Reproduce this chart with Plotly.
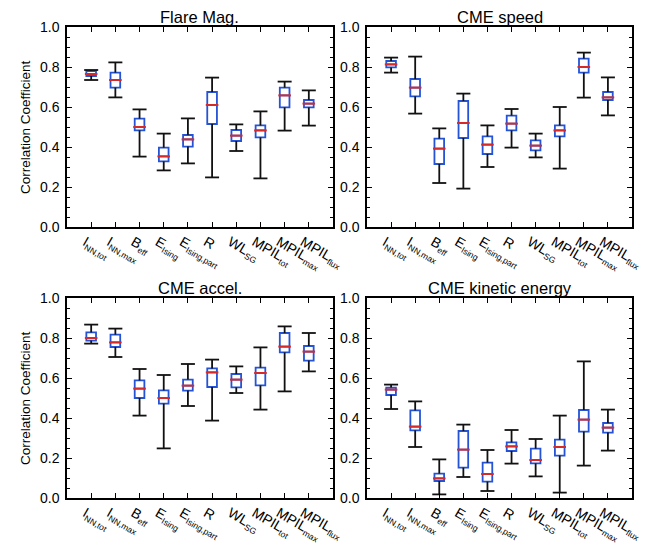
import plotly.graph_objects as go
from plotly.subplots import make_subplots

# x categories (tick labels)
cats = [("I", "NN,tot"), ("I", "NN,max"), ("B", "eff"), ("E", "Ising"), ("E", "Ising,part"),
        ("R", ""), ("WL", "SG"), ("MPIL", "tot"), ("MPIL", "max"), ("MPIL", "flux")]
labels = [m + ("<sub><span style='font-size:8.5px'>%s</span></sub>" % s if s else "")
          for m, s in cats]
xs = list(range(len(labels)))

# Flare Mag.
flare_lo = [0.735, 0.648, 0.352, 0.283, 0.318, 0.248, 0.380, 0.243, 0.482, 0.507]
flare_q1 = [0.755, 0.697, 0.483, 0.328, 0.402, 0.515, 0.430, 0.448, 0.598, 0.598]
flare_med = [0.765, 0.735, 0.500, 0.353, 0.438, 0.610, 0.457, 0.483, 0.658, 0.617]
flare_q3 = [0.780, 0.772, 0.542, 0.397, 0.460, 0.675, 0.485, 0.508, 0.697, 0.635]
flare_hi = [0.785, 0.823, 0.588, 0.467, 0.543, 0.747, 0.513, 0.578, 0.727, 0.683]

# CME speed
speed_lo = [0.772, 0.567, 0.220, 0.192, 0.300, 0.397, 0.348, 0.292, 0.647, 0.558]
speed_q1 = [0.798, 0.653, 0.315, 0.445, 0.365, 0.483, 0.383, 0.453, 0.772, 0.635]
speed_med = [0.813, 0.697, 0.392, 0.520, 0.412, 0.517, 0.407, 0.483, 0.800, 0.648]
speed_q3 = [0.830, 0.740, 0.442, 0.630, 0.453, 0.557, 0.433, 0.508, 0.842, 0.675]
speed_hi = [0.847, 0.852, 0.493, 0.667, 0.508, 0.590, 0.467, 0.600, 0.872, 0.748]

# CME accel.
accel_lo = [0.772, 0.705, 0.412, 0.248, 0.460, 0.387, 0.525, 0.442, 0.533, 0.633]
accel_q1 = [0.787, 0.755, 0.500, 0.472, 0.537, 0.555, 0.553, 0.563, 0.728, 0.687]
accel_med = [0.800, 0.778, 0.547, 0.500, 0.562, 0.628, 0.592, 0.625, 0.757, 0.732]
accel_q3 = [0.828, 0.817, 0.588, 0.538, 0.592, 0.648, 0.620, 0.652, 0.825, 0.760]
accel_hi = [0.867, 0.847, 0.645, 0.615, 0.670, 0.692, 0.658, 0.753, 0.858, 0.825]

# CME kinetic energy
ekin_lo = [0.445, 0.255, 0.018, 0.105, 0.035, 0.172, 0.108, 0.027, 0.162, 0.237]
ekin_q1 = [0.515, 0.338, 0.085, 0.152, 0.082, 0.235, 0.173, 0.212, 0.332, 0.327]
ekin_med = [0.542, 0.357, 0.098, 0.242, 0.120, 0.258, 0.190, 0.255, 0.392, 0.352]
ekin_q3 = [0.552, 0.438, 0.122, 0.335, 0.177, 0.278, 0.247, 0.292, 0.440, 0.375]
ekin_hi = [0.567, 0.483, 0.193, 0.367, 0.240, 0.340, 0.295, 0.412, 0.683, 0.442]

titles = ["Flare Mag.", "CME speed", "CME accel.", "CME kinetic energy"]
panels = [
    (flare_lo, flare_q1, flare_med, flare_q3, flare_hi),
    (speed_lo, speed_q1, speed_med, speed_q3, speed_hi),
    (accel_lo, accel_q1, accel_med, accel_q3, accel_hi),
    (ekin_lo, ekin_q1, ekin_med, ekin_q3, ekin_hi),
]

W, H = 665, 554
OFF = 8  # page body margin
xdom = [[(67 - OFF) / W, (333 - OFF) / W], [(367 - OFF) / W, (632 - OFF) / W]]
ydom = [[1 - (227 - OFF) / H, 1 - (27 - OFF) / H], [1 - (498 - OFF) / H, 1 - (298 - OFF) / H]]

BLUE = "#2453d6"
RED = "#d42a2a"
FONT = "Liberation Sans"

fig = make_subplots(rows=2, cols=2)

for k, (lo, q1, med, q3, hi) in enumerate(panels):
    r, c = k // 2 + 1, k % 2 + 1
    fig.add_trace(go.Box(x=xs, q1=q1, median=med, q3=q3, lowerfence=q1, upperfence=q3,
                         width=0.4, whiskerwidth=0, fillcolor="white",
                         line=dict(color=BLUE, width=1.8), hoverinfo="skip"), row=r, col=c)
    wx, wy = [], []
    for i in xs:
        wx += [i, i, None, i, i, None]
        wy += [lo[i], q1[i], None, q3[i], hi[i], None]
    fig.add_trace(go.Scatter(x=wx, y=wy, mode="lines",
                             line=dict(color="#111111", width=1.8)), row=r, col=c)
    fig.add_trace(go.Scatter(x=xs + xs, y=lo + hi, mode="markers",
                             marker=dict(symbol="line-ew", size=10,
                                         line=dict(color="#111111", width=1.8))), row=r, col=c)
    fig.add_trace(go.Scatter(x=xs, y=med, mode="markers",
                             marker=dict(symbol="line-ew", size=9,
                                         line=dict(color=RED, width=2))), row=r, col=c)

    fig.update_xaxes(domain=xdom[c - 1], range=[-1, 10], tickvals=xs, ticktext=labels,
                     tickangle=30, ticks="inside", ticklen=5, tickwidth=1.2, tickcolor="black",
                     showline=True, linecolor="black", linewidth=1.5, mirror="allticks",
                     showgrid=False, zeroline=False, automargin=False, ticklabelshift=-6,
                     tickfont=dict(family=FONT, size=14, color="black"), row=r, col=c)
    fig.update_yaxes(domain=ydom[r - 1], range=[0, 1], dtick=0.2, tickformat=".1f",
                     ticks="inside", ticklen=5, tickwidth=1.2, tickcolor="black",
                     minor=dict(dtick=0.05, ticks="inside", ticklen=3, tickcolor="black"),
                     showline=True, linecolor="black", linewidth=1.5, mirror="allticks",
                     showgrid=False, zeroline=False, ticklabelstandoff=3, automargin=False,
                     tickfont=dict(family=FONT, size=14, color="black"), row=r, col=c)

    xd, yd = xdom[c - 1], ydom[r - 1]
    fig.add_annotation(text=titles[k], xref="paper", yref="paper",
                       x=(xd[0] + xd[1]) / 2, y=yd[1], xanchor="center", yanchor="bottom",
                       yshift=0, borderpad=0, showarrow=False,
                       font=dict(family=FONT, size=16.5, color="black"))
    if c == 1:
        fig.add_annotation(text="Correlation Coefficient", xref="paper", yref="paper",
                           x=(25 - OFF) / W, y=(yd[0] + yd[1]) / 2, xanchor="center",
                           yanchor="middle", textangle=-90, showarrow=False,
                           font=dict(family=FONT, size=13.5, color="black"))

fig.update_layout(template="none", width=W, height=H, margin=dict(l=0, r=0, t=0, b=0),
                  showlegend=False, plot_bgcolor="white", paper_bgcolor="white")

fig.write_html("out.html")
